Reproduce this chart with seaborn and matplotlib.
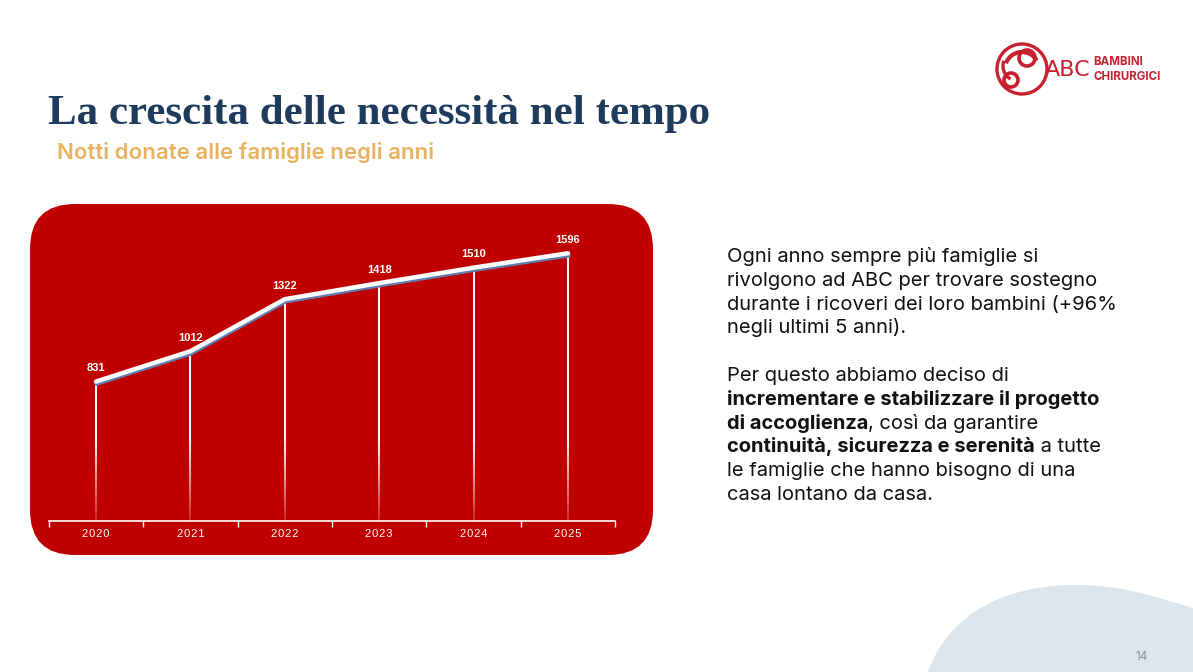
import numpy as np
import pandas as pd
import matplotlib
matplotlib.use("Agg")
import matplotlib.pyplot as plt
import matplotlib.patheffects as pe
from matplotlib.patches import FancyBboxPatch, Circle, Arc, PathPatch
from matplotlib.path import Path
from matplotlib.collections import LineCollection
import seaborn as sns

# data
years = ["2020", "2021", "2022", "2023", "2024", "2025"]
nights = [831, 1012, 1322, 1418, 1510, 1596]

title = "La crescita delle necessità nel tempo"
subtitle = "Notti donate alle famiglie negli anni"
body = [
    [("Ogni anno sempre più famiglie si", False)],
    [("rivolgono ad ABC per trovare sostegno", False)],
    [("durante i ricoveri dei loro bambini (+96%", False)],
    [("negli ultimi 5 anni).", False)],
    [],
    [("Per questo abbiamo deciso di", False)],
    [("incrementare e stabilizzare il progetto", True)],
    [("di accoglienza", True), (", così da garantire", False)],
    [("continuità, sicurezza e serenità", True), (" a tutte", False)],
    [("le famiglie che hanno bisogno di una", False)],
    [("casa lontano da casa.", False)],
]
page_no = "14"

RED = "#c00000"
NAVY = "#1f3b5c"
GOLD = "#e9b25e"
LOGO_RED = "#c8202f"

sns.set_theme(style="white")
plt.rcParams["font.family"] = ["Inter", "DejaVu Sans"]

W, H = 1193, 672
fig = plt.figure(figsize=(W / 100, H / 100), dpi=100)
fig.patch.set_facecolor("white")

# background layer in pixel coordinates
bg = fig.add_axes([0, 0, 1, 1])
bg.set_xlim(0, W)
bg.set_ylim(H, 0)
bg.axis("off")

bg.add_patch(FancyBboxPatch((30 + 45, 204 + 45), 623 - 90, 351 - 90,
                            boxstyle="round,pad=45", fc=RED, ec="none"))

blob = Path([(928, 672), (950, 610), (1010, 585), (1075, 585),
             (1120, 585), (1150, 595), (1193, 608), (1193, 672), (928, 672)],
            [Path.MOVETO, Path.CURVE4, Path.CURVE4, Path.CURVE4,
             Path.CURVE4, Path.CURVE4, Path.CURVE4, Path.LINETO, Path.CLOSEPOLY])
bg.add_patch(PathPatch(blob, fc="#dee6ed", ec="none"))
bg.text(1142, 657, page_no, fontsize=8.5, color="#8a9096", ha="center", va="center")

# logo
bg.add_patch(Circle((1022, 69), 25, fill=False, ec=LOGO_RED, lw=2.4))
bg.add_patch(Circle((1027, 58), 8, fill=False, ec=LOGO_RED, lw=2.6))
bg.add_patch(Circle((1011, 80), 7, fill=False, ec=LOGO_RED, lw=2.6))
bg.add_patch(Arc((1022, 69), 34, 34, angle=0, theta1=200, theta2=330, ec=LOGO_RED, lw=3))
bg.add_patch(Arc((1018, 66), 30, 30, angle=0, theta1=120, theta2=200, ec=LOGO_RED, lw=2.4))
bg.text(1068, 70, "ABC", fontsize=16, color=LOGO_RED, ha="center", va="center",
        family="Liberation Sans Narrow")
bg.text(1093, 62, "BAMBINI", fontsize=8.3, color=LOGO_RED, ha="left", va="center", weight="bold")
bg.text(1093, 77, "CHIRURGICI", fontsize=8.3, color=LOGO_RED, ha="left", va="center", weight="bold")

# titles
bg.text(48, 124, title, fontsize=31, color=NAVY, weight="bold",
        family="Liberation Serif", ha="left", va="baseline")
bg.text(57, 159, subtitle, fontsize=16, color=GOLD, weight="semibold",
        ha="left", va="baseline")

# body text with bold runs
y0, step = 262, 23.8
for i, runs in enumerate(body):
    prev = None
    for txt, bold in runs:
        w = "bold" if bold else "normal"
        if prev is None:
            prev = bg.text(727, y0 + i * step, txt, fontsize=14.5, color="#111111",
                           weight=w, ha="left", va="baseline")
        else:
            prev = bg.annotate(txt, xy=(1, 0), xycoords=prev, fontsize=14.5,
                               color="#111111", weight=w, ha="left", va="bottom")

# chart
df = pd.DataFrame({"x": np.arange(len(years)), "year": years, "nights": nights})
ax = fig.add_axes([48.8 / W, (H - 521) / H, 566.4 / W, 302 / H])
ax.patch.set_alpha(0)

# fading drop lines
segs, cols = [], []
for x, v in zip(df["x"], df["nights"]):
    ys = np.linspace(0, v, 60)
    for a, b in zip(ys[:-1], ys[1:]):
        segs.append([(x, a), (x, b)])
        cols.append((1, 1, 1, 0.15 + 0.85 * min(1, b / 500)))
ax.add_collection(LineCollection(segs, colors=cols, linewidths=1.4, capstyle="butt"))

sns.lineplot(data=df, x="x", y="nights", ax=ax, color="white", lw=3.2,
             solid_capstyle="round",
             path_effects=[pe.SimpleLineShadow(offset=(0.4, -1.5), shadow_color="#5f7fb2",
                                               alpha=1), pe.Normal()])

for x, v in zip(df["x"], df["nights"]):
    ax.annotate(str(v), (x, v), xytext=(0, 6), textcoords="offset points",
                ha="center", va="bottom", fontsize=8, color="white",
                weight="bold", family="Liberation Sans")

ax.set_xlim(-0.5, len(years) - 0.5)
ax.set_ylim(0, 1800)
ax.set_xlabel("")
ax.set_ylabel("")
ax.set_yticks([])
ax.set_xticks(np.arange(-0.5, len(years)), labels=[""] * (len(years) + 1))
ax.set_xticks(df["x"], labels=["\u200a".join(y) for y in years], minor=True)
ax.tick_params(axis="x", which="major", bottom=True, direction="out", length=4,
               width=1, color="white")
ax.tick_params(axis="x", which="minor", bottom=True, length=0, pad=6, labelsize=8,
               labelcolor="white")
for lab in ax.get_xticklabels(minor=True):
    lab.set_family("Liberation Sans")
for s in ["top", "right", "left"]:
    ax.spines[s].set_visible(False)
ax.spines["bottom"].set_color("white")
ax.spines["bottom"].set_linewidth(1.2)

fig.savefig("out.png", dpi=100)
